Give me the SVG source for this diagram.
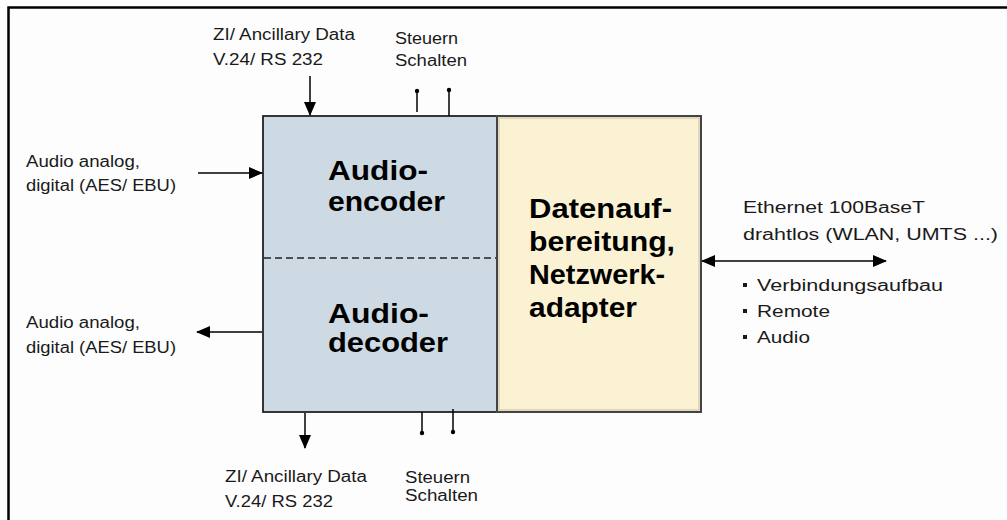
<svg xmlns="http://www.w3.org/2000/svg" width="1007" height="520" viewBox="0 0 1007 520">
  <style>
    .lbl { font-family: "Liberation Sans", Arial, sans-serif; font-size: 16px; fill: #1a1a1a; }
    .big { font-family: "Liberation Sans", Arial, sans-serif; font-size: 28px; font-weight: bold; fill: #000; }
    .wire { stroke: #000; stroke-width: 1.5; fill: none; }
    .dot { fill: #000; }
  </style>
  <defs>
    <marker id="head" viewBox="0 0 14 12" refX="13" refY="6" markerWidth="14" markerHeight="12" markerUnits="userSpaceOnUse" orient="auto-start-reverse">
      <path d="M0,0 L14,6 L0,12 Z" fill="#000"/>
    </marker>
  </defs>

  <!-- page background and frame -->
  <rect x="0" y="0" width="1007" height="520" fill="#fdfdfd"/>
  <rect x="8.5" y="7.5" width="1100" height="600" fill="none" stroke="#000" stroke-width="2.5"/>

  <!-- audio codec block -->
  <g id="codec">
    <rect x="263" y="116" width="234" height="296" fill="#cddae3" stroke="#222" stroke-width="1.8"/>
    <line x1="264" y1="258" x2="496" y2="258" stroke="#222" stroke-width="1.3" stroke-dasharray="7 4"/>
  </g>
  <g id="encoder">
    <text class="big" x="328" y="180" textLength="100" lengthAdjust="spacingAndGlyphs">Audio-</text>
    <text class="big" x="328" y="211" textLength="117" lengthAdjust="spacingAndGlyphs">encoder</text>
  </g>
  <g id="decoder">
    <text class="big" x="328" y="323" textLength="101" lengthAdjust="spacingAndGlyphs">Audio-</text>
    <text class="big" x="328" y="352" textLength="120" lengthAdjust="spacingAndGlyphs">decoder</text>
  </g>

  <!-- data processing / network adapter block -->
  <g id="adapter">
    <rect x="497" y="116" width="204" height="296" fill="#faf2d2" stroke="#444" stroke-width="2"/>
    <rect x="499" y="118" width="200" height="292" fill="none" stroke="#b8b4a0" stroke-width="0.8"/>
    <text class="big" x="529" y="218" textLength="143" lengthAdjust="spacingAndGlyphs">Datenauf-</text>
    <text class="big" x="529" y="251" textLength="146" lengthAdjust="spacingAndGlyphs">bereitung,</text>
    <text class="big" x="529" y="284" textLength="136" lengthAdjust="spacingAndGlyphs">Netzwerk-</text>
    <text class="big" x="529" y="317" textLength="108" lengthAdjust="spacingAndGlyphs">adapter</text>
  </g>

  <!-- connectors -->
  <g id="connectors">
    <line class="wire" x1="310" y1="76" x2="310" y2="115" marker-end="url(#head)"/>
    <line class="wire" x1="198" y1="173" x2="262" y2="173" marker-end="url(#head)"/>
    <line class="wire" x1="262" y1="332" x2="197" y2="332" marker-end="url(#head)"/>
    <line class="wire" x1="305" y1="413" x2="305" y2="448" marker-end="url(#head)"/>
    <line class="wire" x1="702" y1="261" x2="886" y2="261" marker-start="url(#head)" marker-end="url(#head)"/>
    <!-- control pins -->
    <line class="wire" x1="417" y1="91" x2="417" y2="112"/>
    <circle class="dot" cx="417" cy="91" r="2.2"/>
    <line class="wire" x1="449" y1="90" x2="449" y2="116"/>
    <circle class="dot" cx="449" cy="90" r="2.2"/>
    <line class="wire" x1="422" y1="412" x2="422" y2="433"/>
    <circle class="dot" cx="422" cy="433" r="2.2"/>
    <line class="wire" x1="453" y1="409" x2="453" y2="432"/>
    <circle class="dot" cx="453" cy="432" r="2.2"/>
  </g>

  <!-- interface labels -->
  <g id="labels">
    <text class="lbl" x="213" y="40" textLength="142" lengthAdjust="spacingAndGlyphs">ZI/ Ancillary Data</text>
    <text class="lbl" x="213" y="65" textLength="110" lengthAdjust="spacingAndGlyphs">V.24/ RS 232</text>
    <text class="lbl" x="395" y="44" textLength="63" lengthAdjust="spacingAndGlyphs">Steuern</text>
    <text class="lbl" x="395" y="66" textLength="72" lengthAdjust="spacingAndGlyphs">Schalten</text>

    <text class="lbl" x="26" y="167" textLength="114" lengthAdjust="spacingAndGlyphs">Audio analog,</text>
    <text class="lbl" x="26" y="191" textLength="150" lengthAdjust="spacingAndGlyphs">digital (AES/ EBU)</text>
    <text class="lbl" x="26" y="328" textLength="114" lengthAdjust="spacingAndGlyphs">Audio analog,</text>
    <text class="lbl" x="26" y="353" textLength="150" lengthAdjust="spacingAndGlyphs">digital (AES/ EBU)</text>

    <text class="lbl" x="225" y="482" textLength="142" lengthAdjust="spacingAndGlyphs">ZI/ Ancillary Data</text>
    <text class="lbl" x="225" y="507" textLength="108" lengthAdjust="spacingAndGlyphs">V.24/ RS 232</text>
    <text class="lbl" x="405" y="483" textLength="65" lengthAdjust="spacingAndGlyphs">Steuern</text>
    <text class="lbl" x="405" y="501" textLength="73" lengthAdjust="spacingAndGlyphs">Schalten</text>

    <text class="lbl" x="743" y="213" textLength="182" lengthAdjust="spacingAndGlyphs">Ethernet 100BaseT</text>
    <text class="lbl" x="743" y="240" textLength="255" lengthAdjust="spacingAndGlyphs">drahtlos (WLAN, UMTS ...)</text>

    <rect x="743" y="283" width="4" height="4" fill="#1a1a1a"/>
    <text class="lbl" x="757" y="291" textLength="186" lengthAdjust="spacingAndGlyphs">Verbindungsaufbau</text>
    <rect x="743" y="309" width="4" height="4" fill="#1a1a1a"/>
    <text class="lbl" x="757" y="317" textLength="73" lengthAdjust="spacingAndGlyphs">Remote</text>
    <rect x="743" y="335" width="4" height="4" fill="#1a1a1a"/>
    <text class="lbl" x="757" y="343" textLength="53" lengthAdjust="spacingAndGlyphs">Audio</text>
  </g>
</svg>
